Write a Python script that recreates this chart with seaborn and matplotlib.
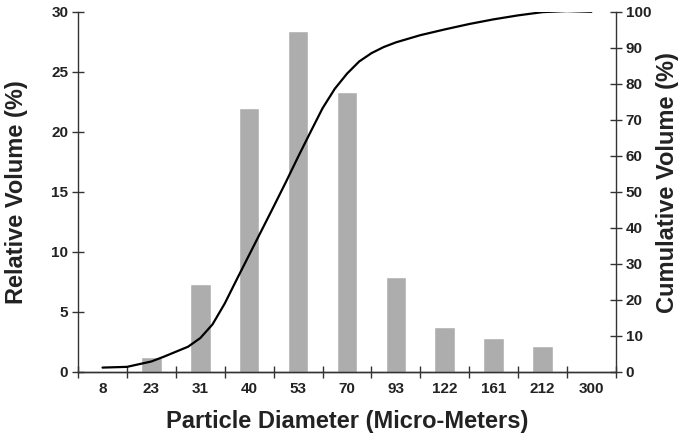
import numpy as np
import pandas as pd
import matplotlib
matplotlib.use('Agg')
import matplotlib.pyplot as plt
import seaborn as sns

# particle size classes (micro-meters) and relative volume per class (%)
diameters = ['8', '23', '31', '40', '53', '70', '93', '122', '161', '212', '300']
rel_volume = [0.0, 1.25, 7.35, 22.0, 28.4, 23.3, 7.9, 3.7, 2.8, 2.15, 0.0]

cum_pos = [0, 0.5, 1, 1.25, 1.5, 1.75, 2, 2.25, 2.5, 2.75, 3, 3.25, 3.5, 3.75, 4,
           4.25, 4.5, 4.75, 5, 5.25, 5.5, 5.75, 6, 6.5, 7, 7.5, 8, 8.5, 9, 9.5, 10]
cum_volume = [1.2, 1.4, 2.9, 4.2, 5.6, 7.0, 9.4, 13.2, 19.0, 25.8, 32.5, 39.2, 45.9,
              52.7, 59.7, 66.5, 73.2, 78.6, 82.8, 86.2, 88.5, 90.2, 91.5, 93.5,
              95.1, 96.6, 97.9, 99.0, 99.9, 100.2, 100.0]

left_ticks = [0, 5, 10, 15, 20, 25, 30]
right_ticks = [0, 10, 20, 30, 40, 50, 60, 70, 80, 90, 100]

sns.set_style('ticks')
plt.rcParams['font.family'] = ['Liberation Sans', 'DejaVu Sans']

bars = pd.DataFrame({'Diameter': diameters, 'Volume': rel_volume})
curve = pd.DataFrame({'pos': cum_pos, 'cum': cum_volume})

fig = plt.figure(figsize=(6.79, 4.36), dpi=100)
ax = fig.add_axes([0.115, 0.147, 0.792, 0.826])

sns.barplot(data=bars, x='Diameter', y='Volume', order=diameters,
            color='#acadac', width=0.42, saturation=1, ax=ax)

ax2 = ax.twinx()
sns.lineplot(data=curve, x='pos', y='cum', color='black', linewidth=1.6, ax=ax2)

ax.set_xlim(-0.5, 10.5)
ax.set_ylim(0, 30)
ax2.set_ylim(0, 100)

tick_font = dict(fontsize=11, fontweight='bold', color='#222222')
ax.set_xticks(range(len(diameters)), labels=diameters, **tick_font)
ax.set_yticks(left_ticks, labels=[str(t) for t in left_ticks], **tick_font)
ax2.set_yticks(right_ticks, labels=[str(t) for t in right_ticks], **tick_font)

# class boundaries carry the tick marks, labels sit in the middle
ax.set_xticks(np.arange(-0.5, 11, 1), minor=True)
ax.tick_params(axis='x', which='major', length=0, pad=7)
ax.tick_params(axis='x', which='minor', direction='inout', length=8, width=1, color='#333333')
ax.tick_params(axis='y', direction='inout', length=8, width=1, color='#333333', pad=3)
ax2.tick_params(axis='y', direction='inout', length=8, width=1, color='#333333', pad=3)

for a in (ax, ax2):
    a.spines['top'].set_visible(False)
    for s in a.spines.values():
        s.set_color('#333333')
        s.set_linewidth(1)
ax.spines['right'].set_visible(False)
ax2.spines['left'].set_visible(False)

label_font = dict(fontsize=17, fontweight='bold', color='#222222')
ax.set_xlabel('Particle Diameter (Micro-Meters)', **label_font)
ax.set_ylabel('Relative Volume (%)', **label_font)
ax2.set_ylabel('Cumulative Volume (%)', **label_font)
ax2.set_xlabel('')

ax.xaxis.set_label_coords(0.5, -0.106)
ax.yaxis.set_label_coords(-0.093, 0.5)
ax2.yaxis.set_label_coords(1.074, 0.525)

fig.savefig('out.png', dpi=100)
